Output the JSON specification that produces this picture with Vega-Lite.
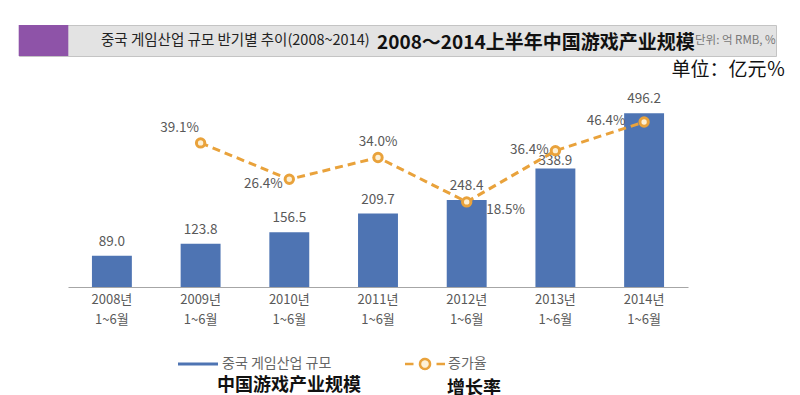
{
  "$schema": "https://vega.github.io/schema/vega-lite/v6.json",
  "autosize": "none",
  "width": 620,
  "height": 175,
  "padding": {"left": 68, "top": 112, "right": 112, "bottom": 108},
  "background": "white",
  "config": {"view": {"stroke": null}, "font": "Noto Sans CJK KR"},
  "title": {
    "text": "2008～2014上半年中国游戏产业规模",
    "anchor": "start", "frame": "group", "orient": "top",
    "dx": 309, "offset": 0, "dy": 37,
    "fontSize": 19, "font": "Noto Sans CJK SC", "fontWeight": "bold", "color": "#111111", "baseline": "middle"
  },
  "data": {
    "values": [
      {"period": "2008년|1~6월", "size": 89.0, "growth": null},
      {"period": "2009년|1~6월", "size": 123.8, "growth": 39.1},
      {"period": "2010년|1~6월", "size": 156.5, "growth": 26.4},
      {"period": "2011년|1~6월", "size": 209.7, "growth": 34.0},
      {"period": "2012년|1~6월", "size": 248.4, "growth": 18.5},
      {"period": "2013년|1~6월", "size": 338.9, "growth": 36.4},
      {"period": "2014년|1~6월", "size": 496.2, "growth": 46.4}
    ]
  },
  "resolve": {"scale": {"y": "independent"}, "axis": {"y": "independent"}},
  "encoding": {
    "x": {
      "field": "period", "type": "nominal", "sort": null,
      "scale": {"paddingInner": 0.55, "paddingOuter": 0.27},
      "axis": {
        "title": null, "labelAngle": 0, "ticks": false, "domainColor": "#a6a6a6", "domainWidth": 1.2,
        "labelExpr": "split(datum.value, '|')", "labelFontSize": 13, "labelColor": "#595959",
        "labelFont": "Noto Sans CJK KR", "labelPadding": 6, "labelLineHeight": 20
      }
    }
  },
  "layer": [
    {
      "layer": [
        {
          "mark": {"type": "bar"},
          "encoding": {
            "y": {"field": "size", "type": "quantitative", "scale": {"domain": [0, 500]}, "axis": null},
            "fill": {
              "datum": "중국 게임산업 규모",
              "scale": {"range": ["#4e74b3"]},
              "legend": {
                "orient": "none", "legendX": 108, "legendY": 245, "padding": 0,
                "symbolType": "M-4,-0.3H4V0.3H-4Z", "symbolSize": 100, "symbolOffset": 15,
                "symbolStrokeWidth": 0,
                "labelOffset": 17, "labelFontSize": 14, "labelColor": "#666666", "labelFont": "Noto Sans CJK KR",
                "title": "中国游戏产业规模", "titleOrient": "bottom", "titleAnchor": "start",
                "titleFontSize": 18, "titleFontWeight": "bold", "titleColor": "#111111", "titleFont": "Noto Sans CJK SC",
                "titlePadding": 6,
                "encode": {"title": {"update": {"dx": {"value": 41}}}}
              }
            }
          }
        },
        {
          "transform": [{"filter": "datum.period != '2013년|1~6월'"}],
          "mark": {"type": "text", "baseline": "middle", "dy": -14, "fontSize": 13.5, "color": "#595959", "font": "Noto Sans CJK KR"},
          "encoding": {
            "y": {"field": "size", "type": "quantitative", "scale": {"domain": [0, 500]}, "axis": null},
            "text": {"field": "size", "type": "quantitative", "format": ".1f"}
          }
        },
        {
          "transform": [{"filter": "datum.period == '2013년|1~6월'"}],
          "mark": {"type": "text", "baseline": "middle", "dy": -7, "fontSize": 13.5, "color": "#595959", "font": "Noto Sans CJK KR"},
          "encoding": {
            "y": {"field": "size", "type": "quantitative", "scale": {"domain": [0, 500]}, "axis": null},
            "text": {"field": "size", "type": "quantitative", "format": ".1f"}
          }
        },
        {
          "transform": [{"filter": "datum.period == '2008년|1~6월'"}],
          "mark": {"type": "point", "opacity": 0, "filled": true, "color": "#8e53a8"},
          "encoding": {
            "y": {"value": 0},
            "shape": {
              "datum": "중국 게임산업 규모 반기별 추이(2008~2014)",
              "scale": {"range": ["M-1.6,-1H1.6V1H-1.6Z"]},
              "legend": {
                "orient": "none", "legendX": -49, "legendY": -87, "padding": 0,
                "fillColor": "#e3e3e3", "strokeColor": "#c4c4c4",
                "symbolSize": 961, "symbolFillColor": "#8e53a8", "symbolStrokeColor": "#8e53a8",
                "symbolStrokeWidth": 0, "symbolOpacity": 1, "symbolOffset": 9,
                "labelFontSize": 14.5, "labelFont": "Noto Sans CJK KR", "labelColor": "#222222",
                "labelOffset": 42, "labelLimit": 2000,
                "title": "단위: 억 RMB, %", "titleOrient": "right", "titleFontSize": 11.5,
                "titleColor": "#777777", "titleFontWeight": "normal", "titlePadding": 325,
                "titleFont": "Noto Sans CJK KR", "titleBaseline": "middle",
                "encode": {
                  "legend": {"update": {"fill": {"value": {"gradient": "linear", "x1": 0, "y1": 0, "x2": 0, "y2": 1, "stops": [{"offset": 0, "color": "#f2f2f2"}, {"offset": 0.6, "color": "#e2e2e2"}, {"offset": 1, "color": "#cfcfcf"}]}}}},
                  "symbols": {"update": {"fill": {"value": "#8e53a8"}, "stroke": {"value": "#8e53a8"}, "opacity": {"value": 1}}}
                }
              }
            }
          }
        }
      ]
    },
    {
      "transform": [
        {"filter": "datum.growth != null"},
        {"calculate": "format(datum.growth, '.1f') + '%'", "as": "glabel"}
      ],
      "encoding": {
        "y": {
          "field": "growth", "type": "quantitative",
          "scale": {"domain": [-11.2, 49.9], "nice": false, "zero": false},
          "axis": {
            "orient": "right", "domain": false, "ticks": false, "labels": false, "grid": false,
            "title": "单位：亿元％", "titleAngle": 0, "titleX": 97, "titleY": -43,
            "titleAlign": "right", "titleBaseline": "middle", "titleFontSize": 19,
            "titleFont": "Noto Sans CJK SC", "titleFontWeight": "normal", "titleColor": "#111111"
          }
        }
      },
      "layer": [
        {
          "mark": {"type": "line", "strokeDash": [8, 5], "strokeWidth": 3},
          "encoding": {
            "stroke": {
              "datum": "증가율",
              "scale": {"range": ["#e9a23b"]},
              "legend": {
                "orient": "none", "legendX": 335, "legendY": 245, "padding": 0,
                "symbolType": "M-4,0H-2.3M-1,0A1,1,0,1,1,1,0A1,1,0,1,1,-1,0M2.3,0H4",
                "symbolSize": 100, "symbolOffset": 15, "symbolStrokeWidth": 2.5, "symbolDash": [1, 0],
                "symbolFillColor": "#fdf0d5",
                "labelOffset": 16, "labelFontSize": 14, "labelColor": "#666666", "labelFont": "Noto Sans CJK KR",
                "title": "增长率", "titleOrient": "bottom", "titleAnchor": "start",
                "titleFontSize": 18, "titleFontWeight": "bold", "titleColor": "#111111", "titleFont": "Noto Sans CJK SC",
                "titlePadding": 6,
                "encode": {"title": {"update": {"dx": {"value": 44}}}}
              }
            }
          }
        },
        {
          "mark": {"type": "point", "filled": false, "size": 70, "strokeWidth": 3, "stroke": "#e9a23b", "fill": "#fdf0d5", "fillOpacity": 1, "opacity": 1}
        },
        {
          "transform": [{"filter": "datum.period == '2009년|1~6월'"}],
          "mark": {"type": "text", "dx": -21, "dy": -15, "fontSize": 13.5, "color": "#595959", "baseline": "middle"},
          "encoding": {"text": {"field": "glabel"}}
        },
        {
          "transform": [{"filter": "datum.period == '2010년|1~6월'"}],
          "mark": {"type": "text", "dx": -26, "dy": 5, "fontSize": 13.5, "color": "#595959", "baseline": "middle"},
          "encoding": {"text": {"field": "glabel"}}
        },
        {
          "transform": [{"filter": "datum.period == '2011년|1~6월'"}],
          "mark": {"type": "text", "dx": 0, "dy": -16, "fontSize": 13.5, "color": "#595959", "baseline": "middle"},
          "encoding": {"text": {"field": "glabel"}}
        },
        {
          "transform": [{"filter": "datum.period == '2012년|1~6월'"}],
          "mark": {"type": "text", "dx": 39, "dy": 8, "fontSize": 13.5, "color": "#595959", "baseline": "middle"},
          "encoding": {"text": {"field": "glabel"}}
        },
        {
          "transform": [{"filter": "datum.period == '2013년|1~6월'"}],
          "mark": {"type": "text", "dx": -26, "dy": -1, "fontSize": 13.5, "color": "#595959", "baseline": "middle"},
          "encoding": {"text": {"field": "glabel"}}
        },
        {
          "transform": [{"filter": "datum.period == '2014년|1~6월'"}],
          "mark": {"type": "text", "dx": -38, "dy": -1, "fontSize": 13.5, "color": "#595959", "baseline": "middle"},
          "encoding": {"text": {"field": "glabel"}}
        }
      ]
    }
  ]
}
